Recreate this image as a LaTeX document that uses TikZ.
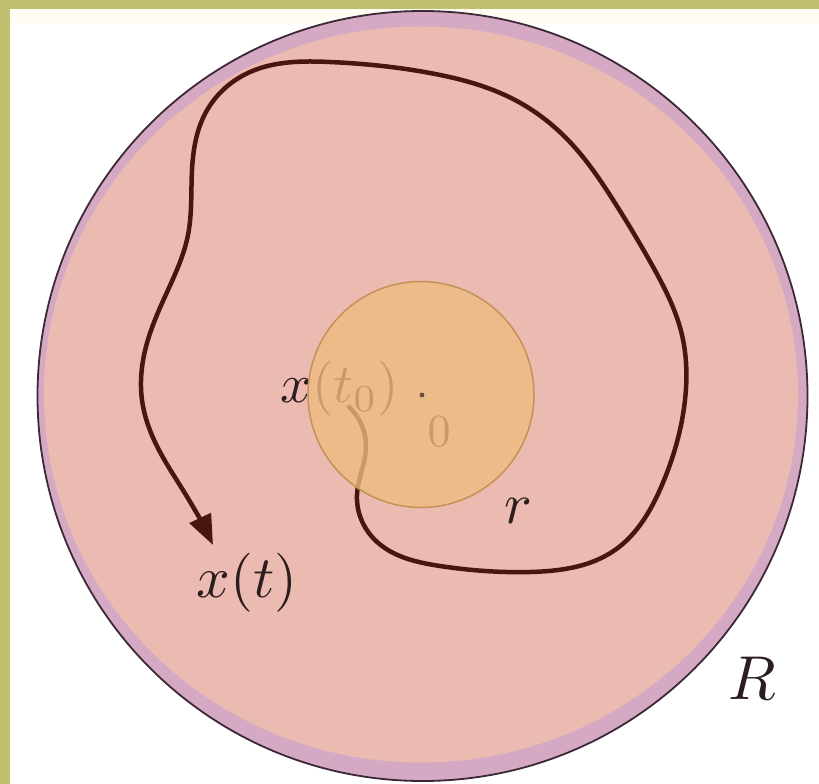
\documentclass[tikz,border=0pt]{standalone}
\usetikzlibrary{arrows.meta,hobby}
\definecolor{olive}{RGB}{191,193,112}
\definecolor{cream}{RGB}{255,253,243}
\definecolor{ringc}{RGB}{213,169,196}
\definecolor{ringedge}{RGB}{60,40,55}
\definecolor{pinkc}{RGB}{235,187,178}
\definecolor{orangec}{RGB}{238,186,128}
\definecolor{orangeedge}{RGB}{196,146,84}
\definecolor{pathc}{RGB}{74,20,16}
\definecolor{labelc}{RGB}{45,30,30}
\tikzset{
  lab/.style={text=labelc, inner sep=0pt},
  trajectory/.style={draw=pathc, line width=4.5pt, line cap=round, line join=round},
}
\begin{document}
\begin{tikzpicture}[x=1pt,y=-1pt]
\useasboundingbox (0,0) rectangle (819,784);
\fill[white] (0,0) rectangle (819,784);
\fill[cream] (10,9) rectangle (819,24);
\fill[olive] (0,0) rectangle (819,9);
\fill[olive] (0,0) rectangle (10,784);
% big disc
\filldraw[fill=ringc, draw=ringedge, line width=1.8pt] (422.5,396) circle (385pt);
\fill[pinkc] (421,394.5) ellipse [x radius=377pt, y radius=368pt];
% trajectory
\draw[trajectory, use Hobby shortcut, -{Triangle[length=30pt,width=23pt]}]
 (349,407) .. (366,447) .. (357,495) .. (375,540) .. (440,566) .. (530,572)
 .. (615,550) .. (662,485) .. (685,400) .. (682,335) .. (652,265) .. (615,203)
 .. (568,140) .. (515,100) .. (430,73) .. (330,62) .. (250,72) .. (206,112) .. (192,170)
 .. (188,235) .. (168,290) .. (147,343) .. (142,400) .. (160,452) .. (186,495) .. (213,545);
% labels under the small disc
\node[lab, scale=5.5] (xt0) at (340,389) {$x(t_0)$};
\node[lab, scale=4.6] (zero) at (439,432) {$0$};
% small disc
\filldraw[fill=orangec, draw=orangeedge, line width=1.5pt, fill opacity=0.8] (421,394.5) circle (113pt);
\fill[labelc, opacity=0.7] (422,395) circle (2.4pt);
\coordinate (origin) at (422,395);
% other labels
\node[lab, scale=5.8] (rlab) at (518,511) {$r$};
\node[lab, scale=5.9] (xt) at (247,583) {$x(t)$};
\node[lab, scale=6.2] (Rlab) at (752,678) {$R$};
\end{tikzpicture}
\end{document}
